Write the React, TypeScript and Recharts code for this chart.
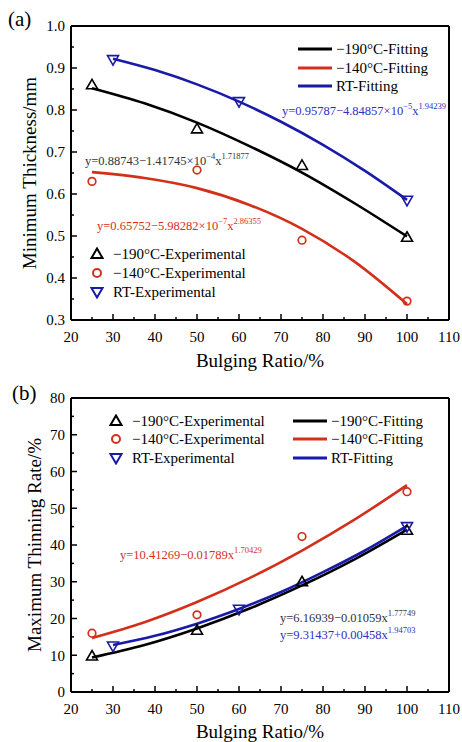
import React from 'react';
import { ComposedChart, Line, XAxis, YAxis, ReferenceLine } from 'recharts';

const FONT = '"Liberation Serif", "Times New Roman", serif';
const RED = '#d3301b';
const BLUE = '#1a1aa8';
const BLACK = '#000000';

// ---- shared x axis ----
const xTicks = [20, 25, 30, 35, 40, 45, 50, 55, 60, 65, 70, 75, 80, 85, 90, 95, 100, 105, 110];

// ---- panel (a): minimum thickness ----
const yTicksA = [0.3, 0.35, 0.4, 0.45, 0.5, 0.55, 0.6, 0.65, 0.7, 0.75, 0.8, 0.85, 0.9, 0.95, 1.0];
const expX = [25, 50, 75, 100];
const expXRT = [30, 60, 100];
const thick190 = [0.86, 0.755, 0.668, 0.497];
const thick140 = [0.63, 0.657, 0.49, 0.345];
const thickRT = [0.92, 0.82, 0.585];
const fitX = [25, 37.5, 50, 62.5, 75, 87.5, 100];
const fitXRT = [30, 40, 50, 60, 70, 80, 90, 100];
const fitThick190 = [0.852, 0.816, 0.770, 0.714, 0.651, 0.578, 0.499];
const fitThick140 = [0.652, 0.638, 0.614, 0.574, 0.517, 0.439, 0.338];
const fitThickRT = [0.922, 0.895, 0.861, 0.820, 0.772, 0.717, 0.655, 0.586];

// ---- panel (b): maximum thinning rate ----
const yTicksB = [0, 5, 10, 15, 20, 25, 30, 35, 40, 45, 50, 55, 60, 65, 70, 75, 80];
const thin190 = [9.8, 16.8, 30.0, 44.0];
const thin140 = [16.0, 21.0, 42.3, 54.5];
const thinRT = [12.5, 22.5, 45.0];
const fitThin190 = [9.4, 12.8, 17.3, 22.7, 29.0, 36.1, 44.2];
const fitThin140 = [14.7, 19.0, 24.5, 31.0, 38.5, 46.9, 56.3];
const fitThinRT = [12.8, 15.3, 18.6, 22.6, 27.2, 32.6, 38.5, 45.2];

const pts = (xs: number[], ys: number[]) => xs.map((x, i) => ({ x, y: ys[i] }));

// ---- markers ----
const TriUp = (p: any) => {
  const { cx, cy } = p;
  if (cx == null || cy == null) return <g />;
  return <path d={`M${cx},${cy - 5.5} L${cx + 5.5},${cy + 4} L${cx - 5.5},${cy + 4} Z`} fill="none" stroke={BLACK} strokeWidth={1.6} />;
};
const TriDown = (p: any) => {
  const { cx, cy } = p;
  if (cx == null || cy == null) return <g />;
  return <path d={`M${cx - 5.5},${cy - 4} L${cx + 5.5},${cy - 4} L${cx},${cy + 5.5} Z`} fill="none" stroke={BLUE} strokeWidth={1.6} />;
};
const Circ = (p: any) => {
  const { cx, cy } = p;
  if (cx == null || cy == null) return <g />;
  return <circle cx={cx} cy={cy} r={3.8} fill="none" stroke={RED} strokeWidth={1.7} />;
};

// ---- ticks ----
const XTick = (props: any) => {
  const { x, y, payload } = props;
  const v = payload.value;
  const major = Math.round(v) % 10 === 0;
  return (
    <g>
      <line x1={x} x2={x} y1={y} y2={y - (major ? 6 : 3)} stroke="#000" strokeWidth={1.5} />
      {major && (
        <text x={x} y={y + 22} textAnchor="middle" fontSize={15} fontFamily={FONT} fill="#000">
          {v}
        </text>
      )}
    </g>
  );
};

const makeYTick = (isMajor: (v: number) => boolean, fmt: (v: number) => string) => (props: any) => {
  const { x, y, payload } = props;
  const v = payload.value;
  const major = isMajor(v);
  return (
    <g>
      <line x1={x} x2={x + (major ? 6 : 3)} y1={y} y2={y} stroke="#000" strokeWidth={1.5} />
      {major && (
        <text x={x - 6} y={y} dy="0.35em" textAnchor="end" fontSize={15} fontFamily={FONT} fill="#000">
          {fmt(v)}
        </text>
      )}
    </g>
  );
};
const YTickA = makeYTick((v) => Math.round(v * 100) % 10 === 0, (v) => v.toFixed(1));
const YTickB = makeYTick((v) => Math.round(v) % 10 === 0, (v) => String(v));

const yTitle = (text: string, cx: number) => (p: any) => {
  const vb = p.viewBox || {};
  const cy = vb.y + vb.height / 2;
  return (
    <text x={cx} y={cy} transform={`rotate(-90 ${cx} ${cy})`} textAnchor="middle" dy="0.35em" fontSize={19} fontFamily={FONT} fill="#000">
      {text}
    </text>
  );
};

const axisStroke = { stroke: '#000', strokeWidth: 2 };

// ---- legends / annotations ----
const txt: React.CSSProperties = { position: 'absolute', fontFamily: FONT, fontSize: 15, color: '#000', whiteSpace: 'nowrap', lineHeight: '16px' };

const LineSym = ({ color }: { color: string }) => (
  <svg width={34} height={6} style={{ display: 'inline-block' }}>
    <line x1={0} x2={34} y1={3} y2={3} stroke={color} strokeWidth={3} />
  </svg>
);
const MarkSym = ({ kind }: { kind: string }) => (
  <svg width={14} height={14} style={{ display: 'inline-block' }}>
    {kind === 'up' && <path d="M7,1.5 L12.5,11 L1.5,11 Z" fill="none" stroke={BLACK} strokeWidth={2} />}
    {kind === 'down' && <path d="M1.5,3 L12.5,3 L7,12.5 Z" fill="none" stroke={BLUE} strokeWidth={2} />}
    {kind === 'circ' && <circle cx={7} cy={7} r={4} fill="none" stroke={RED} strokeWidth={2} />}
  </svg>
);

const LineLegendRow = ({ left, cy, color, label }: any) => (
  <div style={{ ...txt, left, top: cy - 8, display: 'flex', alignItems: 'center' }}>
    <LineSym color={color} />
    <span style={{ marginLeft: 4 }}>{label}</span>
  </div>
);
const MarkLegendRow = ({ left, cy, kind, label, gap }: any) => (
  <div style={{ ...txt, left: left - 7, top: cy - 8, display: 'flex', alignItems: 'center' }}>
    <MarkSym kind={kind} />
    <span style={{ marginLeft: gap }}>{label}</span>
  </div>
);

const Eq = ({ left, cy, color, parts }: any) => (
  <div style={{ position: 'absolute', left, top: cy - 8, fontFamily: FONT, fontSize: 12.5, color, whiteSpace: 'nowrap', lineHeight: '16px' }}>
    {parts.map((p: any, i: number) =>
      p.sup ? (
        <sup key={i} style={{ fontSize: 8.5, verticalAlign: 'baseline', position: 'relative', top: -6 }}>{p.t}</sup>
      ) : (
        <span key={i}>{p.t}</span>
      )
    )}
  </div>
);

export default function App() {
  return (
    <div style={{ position: 'absolute', left: 0, top: 0, width: 462, height: 742, background: '#fff', overflow: 'hidden' }}>
      {/* Panel (a) */}
      <div style={{ position: 'absolute', left: 0, top: 0 }}>
        <ComposedChart width={462} height={371} margin={{ top: 26, right: 13, bottom: 0, left: 0 }}>
          <XAxis
            type="number"
            dataKey="x"
            domain={[20, 110]}
            ticks={xTicks}
            interval={0}
            tickSize={0}
            tickMargin={0}
            tickLine={false}
            tick={(p: any) => <XTick {...p} />}
            height={51}
            axisLine={axisStroke}
            allowDataOverflow
            label={{ value: 'Bulging Ratio/%', position: 'insideBottom', offset: 4, fontSize: 19, fontFamily: FONT, fill: '#000' }}
          />
          <YAxis
            type="number"
            domain={[0.3, 1.0]}
            ticks={yTicksA}
            interval={0}
            tickSize={0}
            tickMargin={0}
            tickLine={false}
            tick={(p: any) => <YTickA {...p} />}
            width={71}
            axisLine={axisStroke}
            allowDataOverflow
            label={{ content: yTitle('Minimum Thickness/mm', 29) }}
          />
          <ReferenceLine y={1.0} stroke="#000" strokeWidth={2} />
          <ReferenceLine x={110} stroke="#000" strokeWidth={2} />
          <Line data={pts(fitX, fitThick190)} dataKey="y" type="monotone" stroke={BLACK} strokeWidth={2.6} dot={false} isAnimationActive={false} />
          <Line data={pts(fitX, fitThick140)} dataKey="y" type="monotone" stroke={RED} strokeWidth={2.6} dot={false} isAnimationActive={false} />
          <Line data={pts(fitXRT, fitThickRT)} dataKey="y" type="monotone" stroke={BLUE} strokeWidth={2.6} dot={false} isAnimationActive={false} />
          <Line data={pts(expX, thick190)} dataKey="y" stroke="none" dot={(p: any) => <TriUp key={p.index} {...p} />} isAnimationActive={false} />
          <Line data={pts(expX, thick140)} dataKey="y" stroke="none" dot={(p: any) => <Circ key={p.index} {...p} />} isAnimationActive={false} />
          <Line data={pts(expXRT, thickRT)} dataKey="y" stroke="none" dot={(p: any) => <TriDown key={p.index} {...p} />} isAnimationActive={false} />
        </ComposedChart>
      </div>

      {/* Panel (b) */}
      <div style={{ position: 'absolute', left: 0, top: 371 }}>
        <ComposedChart width={462} height={371} margin={{ top: 27, right: 13, bottom: 0, left: 0 }}>
          <XAxis
            type="number"
            dataKey="x"
            domain={[20, 110]}
            ticks={xTicks}
            interval={0}
            tickSize={0}
            tickMargin={0}
            tickLine={false}
            tick={(p: any) => <XTick {...p} />}
            height={50}
            axisLine={axisStroke}
            allowDataOverflow
            label={{ value: 'Bulging Ratio/%', position: 'insideBottom', offset: 4, fontSize: 19, fontFamily: FONT, fill: '#000' }}
          />
          <YAxis
            type="number"
            domain={[0, 80]}
            ticks={yTicksB}
            interval={0}
            tickSize={0}
            tickMargin={0}
            tickLine={false}
            tick={(p: any) => <YTickB {...p} />}
            width={71}
            axisLine={axisStroke}
            allowDataOverflow
            label={{ content: yTitle('Maximum Thinning Rate/%', 34) }}
          />
          <ReferenceLine y={80} stroke="#000" strokeWidth={2} />
          <ReferenceLine x={110} stroke="#000" strokeWidth={2} />
          <Line data={pts(fitX, fitThin190)} dataKey="y" type="monotone" stroke={BLACK} strokeWidth={2.6} dot={false} isAnimationActive={false} />
          <Line data={pts(fitX, fitThin140)} dataKey="y" type="monotone" stroke={RED} strokeWidth={2.6} dot={false} isAnimationActive={false} />
          <Line data={pts(fitXRT, fitThinRT)} dataKey="y" type="monotone" stroke={BLUE} strokeWidth={2.6} dot={false} isAnimationActive={false} />
          <Line data={pts(expX, thin190)} dataKey="y" stroke="none" dot={(p: any) => <TriUp key={p.index} {...p} />} isAnimationActive={false} />
          <Line data={pts(expX, thin140)} dataKey="y" stroke="none" dot={(p: any) => <Circ key={p.index} {...p} />} isAnimationActive={false} />
          <Line data={pts(expXRT, thinRT)} dataKey="y" stroke="none" dot={(p: any) => <TriDown key={p.index} {...p} />} isAnimationActive={false} />
        </ComposedChart>
      </div>

      {/* panel labels */}
      <div style={{ ...txt, fontSize: 21, left: 8, top: 8, lineHeight: '22px' }}>(a)</div>
      <div style={{ ...txt, fontSize: 21, left: 12, top: 382, lineHeight: '22px' }}>(b)</div>

      {/* legend (a) */}
      <LineLegendRow left={298} cy={49} color={BLACK} label="−190°C-Fitting" />
      <LineLegendRow left={298} cy={68} color={RED} label="−140°C-Fitting" />
      <LineLegendRow left={298} cy={86} color={BLUE} label="RT-Fitting" />
      <MarkLegendRow left={97} cy={254} kind="up" label="−190°C-Experimental" gap={9} />
      <MarkLegendRow left={97} cy={273} kind="circ" label="−140°C-Experimental" gap={9} />
      <MarkLegendRow left={97} cy={292} kind="down" label="RT-Experimental" gap={9} />

      {/* legend (b) */}
      <MarkLegendRow left={116} cy={421} kind="up" label="−190°C-Experimental" gap={9} />
      <MarkLegendRow left={116} cy={439} kind="circ" label="−140°C-Experimental" gap={9} />
      <MarkLegendRow left={116} cy={458} kind="down" label="RT-Experimental" gap={9} />
      <LineLegendRow left={293} cy={421} color={BLACK} label="−190°C-Fitting" />
      <LineLegendRow left={293} cy={439} color={RED} label="−140°C-Fitting" />
      <LineLegendRow left={293} cy={458} color={BLUE} label="RT-Fitting" />

      {/* equations (a) */}
      <Eq left={282} cy={111} color="#2f2fc0" parts={[{ t: 'y=0.95787−4.84857×10' }, { t: '−5', sup: true }, { t: 'x' }, { t: '1.94239', sup: true }]} />
      <Eq left={85} cy={161} color="#333333" parts={[{ t: 'y=0.88743−1.41745×10' }, { t: '−4', sup: true }, { t: 'x' }, { t: '1.71877', sup: true }]} />
      <Eq left={97} cy={226} color="#d3301b" parts={[{ t: 'y=0.65752−5.98282×10' }, { t: '−7', sup: true }, { t: 'x' }, { t: '2.86355', sup: true }]} />

      {/* equations (b) */}
      <Eq left={120} cy={555} color="#d3301b" parts={[{ t: 'y=10.41269−0.01789x' }, { t: '1.70429', sup: true }]} />
      <Eq left={280} cy={618} color="#333333" parts={[{ t: 'y=6.16939−0.01059x' }, { t: '1.77749', sup: true }]} />
      <Eq left={280} cy={635} color="#2f2fc0" parts={[{ t: 'y=9.31437+0.00458x' }, { t: '1.94703', sup: true }]} />
    </div>
  );
}
